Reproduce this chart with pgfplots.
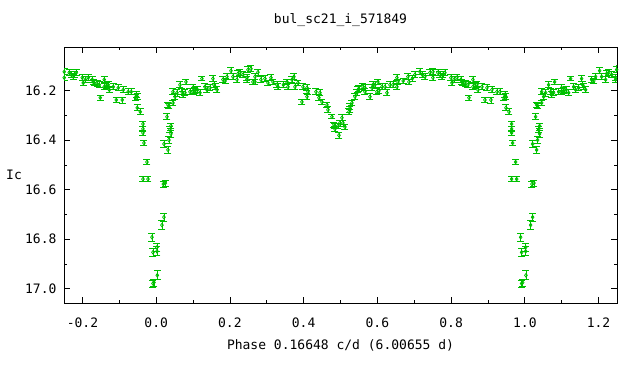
\documentclass[border=0pt]{standalone}
\usepackage{pgfplots}
\pgfplotsset{compat=1.18}
\usepackage{pgfplotstable}
\usepackage{fontspec}
\setmainfont{DejaVu Sans Mono}
\definecolor{gpgreen}{RGB}{0,192,0}
\pgfplotstableread{
p m e
0.0022 16.833 0.018
0.0022 16.849 0.018
0.0030 16.946 0.018
0.0157 16.743 0.018
0.0211 16.711 0.016
0.0194 16.577 0.012
0.0248 16.573 0.012
0.0211 16.415 0.014
0.0320 16.439 0.014
0.0347 16.399 0.014
0.0401 16.374 0.014
0.0374 16.358 0.012
0.0401 16.342 0.012
0.0293 16.305 0.012
0.0320 16.257 0.012
0.0456 16.249 0.012
0.0347 16.261 0.012
0.0456 16.204 0.012
0.0510 16.224 0.012
0.0564 16.208 0.014
0.0645 16.176 0.012
0.0700 16.204 0.012
0.0727 16.216 0.012
0.0808 16.164 0.012
0.0780 16.208 0.012
0.0917 16.204 0.012
0.0998 16.188 0.012
0.1000 16.204 0.012
0.1052 16.200 0.012
0.1120 16.196 0.012
0.1188 16.208 0.012
0.1242 16.151 0.008
0.1323 16.184 0.012
0.1378 16.196 0.012
0.1459 16.188 0.012
0.1540 16.151 0.012
0.1568 16.176 0.012
0.1600 16.184 0.012
0.1649 16.196 0.012
0.1812 16.155 0.012
0.1870 16.160 0.012
0.1920 16.143 0.012
0.2029 16.119 0.012
0.2083 16.143 0.012
0.2191 16.155 0.012
0.2219 16.131 0.012
0.2273 16.127 0.012
0.2354 16.135 0.012
0.2463 16.155 0.012
0.2463 16.147 0.012
0.2490 16.115 0.012
0.2571 16.111 0.012
0.2625 16.164 0.012
0.2680 16.143 0.012
0.2761 16.125 0.012
0.2680 16.164 0.012
0.2842 16.155 0.012
0.2951 16.151 0.012
0.3032 16.168 0.012
0.3114 16.147 0.012
0.3168 16.164 0.012
0.3276 16.176 0.012
0.3303 16.184 0.012
0.3450 16.176 0.012
0.3547 16.164 0.012
0.3575 16.184 0.012
0.3683 16.155 0.012
0.3737 16.143 0.012
0.3764 16.184 0.012
0.3846 16.168 0.012
0.3981 16.184 0.012
0.3954 16.245 0.010
0.4090 16.188 0.012
0.4117 16.204 0.012
0.4090 16.224 0.012
0.4334 16.204 0.012
0.4443 16.208 0.012
0.4416 16.228 0.012
0.4497 16.245 0.012
0.4633 16.257 0.012
0.4660 16.277 0.012
0.4768 16.305 0.008
0.4822 16.338 0.012
0.4849 16.342 0.012
0.4849 16.354 0.012
0.4931 16.342 0.012
0.4958 16.380 0.012
0.4985 16.330 0.012
0.5039 16.309 0.012
0.5066 16.330 0.012
0.5120 16.346 0.012
0.5229 16.285 0.012
0.5256 16.265 0.012
0.5256 16.277 0.012
0.5310 16.249 0.012
0.5392 16.224 0.012
0.5446 16.208 0.012
0.5473 16.196 0.012
0.5500 16.192 0.012
0.5609 16.184 0.012
0.5663 16.188 0.012
0.5663 16.204 0.012
0.5799 16.224 0.012
0.5853 16.188 0.012
0.5880 16.176 0.012
0.5934 16.176 0.012
0.6015 16.164 0.012
0.5988 16.204 0.012
0.6042 16.200 0.012
0.6124 16.184 0.012
0.6205 16.184 0.012
0.6260 16.208 0.012
0.6341 16.176 0.012
0.6422 16.176 0.012
0.6531 16.147 0.012
0.6558 16.164 0.012
0.6531 16.184 0.012
0.6700 16.160 0.012
0.6829 16.143 0.012
0.6856 16.164 0.012
0.6950 16.150 0.012
0.7019 16.135 0.012
0.7154 16.123 0.012
0.7220 16.135 0.012
0.7290 16.143 0.012
0.7425 16.127 0.012
0.7507 16.123 0.012
0.7507 16.147 0.012
0.7642 16.127 0.012
0.7697 16.135 0.012
0.7751 16.143 0.012
0.7778 16.135 0.012
0.7832 16.127 0.012
0.7995 16.147 0.012
0.8022 16.168 0.012
0.8080 16.155 0.012
0.8158 16.147 0.012
0.8267 16.155 0.012
0.8294 16.164 0.012
0.8321 16.168 0.012
0.8400 16.172 0.012
0.8457 16.176 0.012
0.8484 16.228 0.010
0.8592 16.155 0.012
0.8592 16.184 0.012
0.8650 16.180 0.012
0.8700 16.176 0.012
0.8728 16.196 0.012
0.8836 16.184 0.012
0.8918 16.237 0.010
0.8972 16.188 0.012
0.9080 16.237 0.012
0.9107 16.196 0.012
0.9243 16.204 0.012
0.9324 16.204 0.012
0.9460 16.216 0.012
0.9433 16.228 0.012
0.9487 16.224 0.012
0.9487 16.269 0.012
0.9569 16.285 0.012
0.9642 16.334 0.010
0.9642 16.354 0.010
0.9642 16.370 0.010
0.9669 16.411 0.010
0.9750 16.488 0.010
0.9642 16.557 0.010
0.9778 16.557 0.010
0.9886 16.792 0.016
0.9913 16.853 0.016
0.9940 16.975 0.014
0.9913 16.979 0.014
}\lc
\begin{document}
\begin{tikzpicture}[x=1pt,y=1pt]
\path[use as bounding box] (0,0) rectangle (640,384);
\begin{axis}[
  at={(64pt,81pt)}, anchor=south west,
  scale only axis, width=553pt, height=256pt,
  xmin=-0.25, xmax=1.25, ymin=16.023, ymax=17.058,
  y dir=reverse,
  axis line style={line width=0.8pt},
  every tick/.style={black, line width=0.8pt},
  major tick length=6pt, minor tick length=3pt,
  xtick={-0.2,0,0.2,0.4,0.6,0.8,1.0,1.2},
  xticklabels={-0.2,0.0,0.2,0.4,0.6,0.8,1.0,1.2},
  ytick={16.2,16.4,16.6,16.8,17.0},
  yticklabels={16.2,16.4,16.6,16.8,17.0},
  minor x tick num=1, minor y tick num=1,
  font=\fontsize{13pt}{15pt}\selectfont,
  ticklabel style={font=\fontsize{13pt}{15pt}\selectfont},
  xticklabel style={yshift=-11pt},
  yticklabel style={xshift=-4pt},
  title={bul\_sc21\_i\_571849},
  title style={at={(0.5,1)}, anchor=center, yshift=21pt},
  xlabel={Phase 0.16648 c/d (6.00655 d)},
  xlabel style={at={(0.5,0)}, anchor=center, yshift=-42pt},
  ylabel={Ic},
  ylabel style={at={(0,0.5)}, anchor=center, rotate=-90, xshift=-50pt},
  clip=true,
  lc/.style={
    only marks, color=gpgreen, line width=0.8pt,
    mark=diamond, mark size=1.8pt,
    mark options={solid, draw=gpgreen, fill=none},
    error bars/.cd, y dir=both, y explicit,
    error bar style={line width=0.8pt, color=gpgreen},
    error mark options={rotate=90, mark size=3.5pt, line width=0.8pt, color=gpgreen}},
]
\addplot[lc] table[x=p, y=m, y error=e] {\lc};
\addplot[lc] table[x expr=\thisrow{p}-1, y=m, y error=e] {\lc};
\addplot[lc] table[x expr=\thisrow{p}+1, y=m, y error=e] {\lc};
\end{axis}
\end{tikzpicture}
\end{document}
